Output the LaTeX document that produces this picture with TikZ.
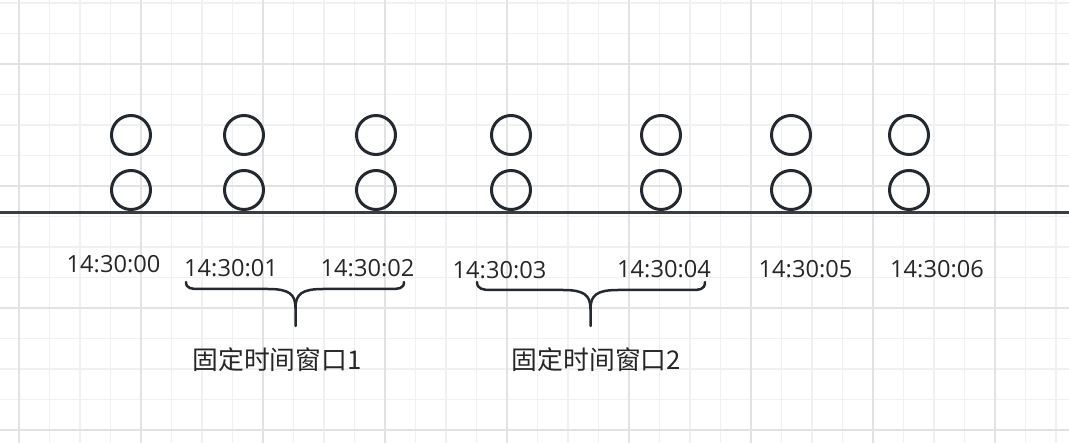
\documentclass[tikz,border=0pt]{standalone}
\usepackage{fontspec}
\setmainfont{Open Sans}
\newfontfamily\cjk{Noto Sans CJK SC}
\definecolor{gridminor}{HTML}{F0F0F0}
\definecolor{gridmajor}{HTML}{E2E2E2}
\definecolor{ink}{HTML}{23292E}
\definecolor{txt}{HTML}{262626}
\tikzset{
  dotnode/.style={circle,draw=ink,line width=3pt,minimum size=39pt,inner sep=0pt},
  timelbl/.style={text=txt,inner sep=0pt,font=\fontsize{23.6}{28}\selectfont},
  winlbl/.style={text=txt,inner sep=0pt,font=\cjk\fontsize{25.8}{30}\selectfont},
  bracestyle/.style={draw=ink,line width=2.5pt,line cap=round,line join=round},
  minorline/.style={draw=gridminor,line width=1.2pt},
  majorline/.style={draw=gridmajor,line width=1.4pt}
}
\begin{document}
\begin{tikzpicture}[x=1pt,y=-1pt]
\useasboundingbox (0,0) rectangle (1069,443);
\fill[white] (0,0) rectangle (1069,443);
% grid
\foreach \k in {0,...,34} \draw[minorline] ({19+30.5*\k},0) -- ({19+30.5*\k},443);
\foreach \k in {0,...,14} \draw[minorline] (0,{3+30.5*\k}) -- (1069,{3+30.5*\k});
\foreach \k in {0,...,8} \draw[majorline] ({19+122*\k},0) -- ({19+122*\k},443);
\foreach \k in {0,...,3} \draw[majorline] (0,{64+122*\k}) -- (1069,{64+122*\k});
% timeline
\coordinate (tl) at (0,212.5);
\coordinate (tr) at (1069,212.5);
\draw[draw=ink!90!white,line width=2.6pt] (tl) -- (tr);
% events
\foreach \n/\x in {a/131,b/244,c/376,d/511,e/661,f/791,g/909}{
  \node[dotnode] (\n1) at (\x,135) {};
  \node[dotnode] (\n2) at (\x,190) {};
}
% time labels
\node[timelbl] (t0) at (113.5,264) {14:30:00};
\node[timelbl] (t1) at (231,268) {14:30:01};
\node[timelbl] (t2) at (367.5,268) {14:30:02};
\node[timelbl] (t3) at (499.5,270) {14:30:03};
\node[timelbl] (t4) at (664,269) {14:30:04};
\node[timelbl] (t5) at (805.5,269) {14:30:05};
\node[timelbl] (t6) at (937,269) {14:30:06};
% braces
\coordinate (b1l) at (186,282);
\coordinate (b1r) at (404,282);
\coordinate (b1t) at (295.5,326);
\draw[bracestyle] (b1l) .. controls (186,289) and (192,289) .. (200,289) -- (268,289)
   .. controls (289,289) and (295.5,294) .. (295.5,308) -- (b1t);
\draw[bracestyle] (295.5,308) .. controls (295.5,294) and (302,289) .. (323,289) -- (390,289)
   .. controls (398,289) and (404,289) .. (b1r);
\coordinate (b2l) at (477,282);
\coordinate (b2r) at (705,282);
\coordinate (b2t) at (590.5,326);
\draw[bracestyle] (b2l) .. controls (477,289) and (483,290) .. (491,290) -- (563,290)
   .. controls (584,290) and (590.5,295) .. (590.5,309) -- (b2t);
\draw[bracestyle] (590.5,309) .. controls (590.5,295) and (597,290) .. (618,290) -- (691,290)
   .. controls (699,290) and (705,290) .. (b2r);
% window labels
\node[winlbl] (w1) at (277,360) {固定时间窗口1};
\node[winlbl] (w2) at (596.5,360) {固定时间窗口2};
\end{tikzpicture}
\end{document}
